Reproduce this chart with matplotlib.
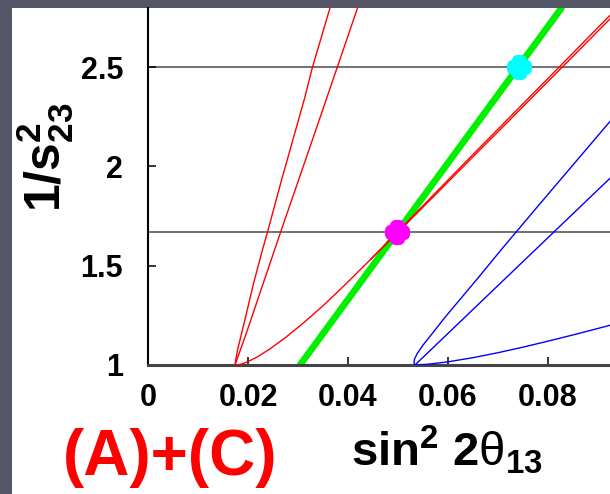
import matplotlib
matplotlib.use("Agg")
import matplotlib.pyplot as plt
from matplotlib.patches import Rectangle
from matplotlib.markers import MarkerStyle

# curvas (x = sin^2 2theta13, y = 1/s23^2)
red_left_x = [0.0174, 0.0176, 0.0179, 0.0184, 0.0188, 0.0196, 0.0210, 0.0229, 0.0239, 0.0267, 0.0314, 0.0329, 0.0364]
red_left_y = [1.0, 1.034, 1.075, 1.126, 1.168, 1.25, 1.40, 1.58, 1.669, 1.93, 2.35, 2.50, 2.797]
red_right_x = [0.0174, 0.0198, 0.0264, 0.0340, 0.0419]
red_right_y = [1.0, 1.17, 1.66, 2.215, 2.797]
red_low_x = [0.0174, 0.0185, 0.0200, 0.0220, 0.0245, 0.0275, 0.0310, 0.0350, 0.0395, 0.0445, 0.0497,
             0.0577, 0.0660, 0.0754, 0.0840, 0.0924]
red_low_y = [1.0, 1.0033, 1.0168, 1.0428, 1.0828, 1.1383, 1.210, 1.298, 1.406, 1.531, 1.661,
             1.863, 2.073, 2.311, 2.529, 2.742]
red_up_x = [0.0445, 0.0497, 0.0577, 0.0660, 0.0754, 0.0840, 0.0924]
red_up_y = [1.531, 1.664, 1.872, 2.085, 2.325, 2.545, 2.760]

blue_left_x = [0.0534, 0.0532, 0.0533, 0.0539, 0.0550, 0.0569, 0.0594, 0.0624, 0.0664, 0.0706, 0.0780, 0.0924]
blue_left_y = [1.0, 1.01, 1.03, 1.06, 1.10, 1.16, 1.24, 1.33, 1.45, 1.579, 1.80, 2.226]
blue_right_x = [0.0534, 0.0924]
blue_right_y = [1.0, 1.94]
blue_low_x = [0.0534, 0.0560, 0.0600, 0.0650, 0.0700, 0.0750, 0.0800, 0.0860, 0.0924]
blue_low_y = [1.0, 1.0039, 1.0159, 1.0369, 1.0619, 1.0899, 1.1199, 1.1577, 1.1999]

green_x = [0.0304, 0.0827]
green_y = [1.0, 2.797]

hlines_y = [2.5, 1.667]
magenta_pt = (0.0497, 1.667)
cyan_pt = (0.0742, 2.5)

xticks = [0, 0.02, 0.04, 0.06, 0.08]
xticklabels = ["0", "0.02", "0.04", "0.06", "0.08"]
yticks = [1, 1.5, 2, 2.5]
yticklabels = ["1", "1.5", "2", "2.5"]

plt.rcParams['font.family'] = ['Liberation Sans', 'DejaVu Sans']
plt.rcParams['mathtext.fontset'] = 'custom'
plt.rcParams['mathtext.rm'] = 'Liberation Sans:bold'
plt.rcParams['mathtext.bf'] = 'Liberation Sans:bold'
plt.rcParams['mathtext.it'] = 'Liberation Sans'

fig = plt.figure(figsize=(6.1, 4.94), dpi=100, facecolor='#545668')
fig.patches.append(Rectangle((12 / 610, 0), 1, (494 - 8) / 494, transform=fig.transFigure,
                             facecolor='white', edgecolor='none', zorder=-10))

ax = fig.add_axes([148 / 610, (494 - 365) / 494, 1 - 148 / 610, (365 - 8) / 494])
ax.set_facecolor('white')
ax.set_xlim(0, 0.0924)
ax.set_ylim(1, 2.797)

for yy in hlines_y:
    ax.axhline(yy, color='#666666', lw=1.3, zorder=1)

ax.plot(green_x, green_y, color='#00f000', lw=4.8, solid_capstyle='round', zorder=2)

for xs, ys in [(red_left_x, red_left_y), (red_right_x, red_right_y),
               (red_low_x, red_low_y), (red_up_x, red_up_y)]:
    ax.plot(xs, ys, color='red', lw=1.0, zorder=3)
for xs, ys in [(blue_left_x, blue_left_y), (blue_right_x, blue_right_y),
               (blue_low_x, blue_low_y)]:
    ax.plot(xs, ys, color='blue', lw=1.0, zorder=3)

blob = MarkerStyle('P', joinstyle='round')
for pt, col in [(magenta_pt, '#ff00ff'), (cyan_pt, '#00ffff')]:
    ax.plot(pt[0], pt[1], marker=blob, ms=10, mew=8, color=col, mec=col,
            zorder=5, clip_on=False)

ax.spines['top'].set_visible(False)
ax.spines['right'].set_visible(False)
ax.spines['left'].set_color('black')
ax.spines['left'].set_linewidth(1.5)
ax.spines['bottom'].set_color('#444444')
ax.spines['bottom'].set_linewidth(2.2)

ax.set_xticks(xticks)
ax.set_xticklabels(xticklabels)
ax.set_yticks(yticks)
ax.set_yticklabels(yticklabels)
ax.tick_params(axis='both', direction='in', length=6, width=1.1, labelsize=22, colors='black')
ax.tick_params(axis='x', pad=13)
ax.tick_params(axis='y', pad=18)
for lab in ax.get_xticklabels() + ax.get_yticklabels():
    lab.set_fontweight('bold')

fig.text(45 / 610, 1 - 157 / 494, r'$\mathbf{1/s^{2}_{23}}$', rotation=90,
         ha='center', va='center', fontsize=36)
fig.text(447 / 610, 1 - 450 / 494, r'$\mathbf{sin^{2}\ 2}\theta_{\mathbf{13}}$',
         ha='center', va='center', fontsize=34)
fig.text(170 / 610, 1 - 458 / 494, '(A)+(C)', color='red', fontweight='bold',
         ha='center', va='center', fontsize=46)

fig.savefig('out.png', dpi=100, facecolor=fig.get_facecolor())
